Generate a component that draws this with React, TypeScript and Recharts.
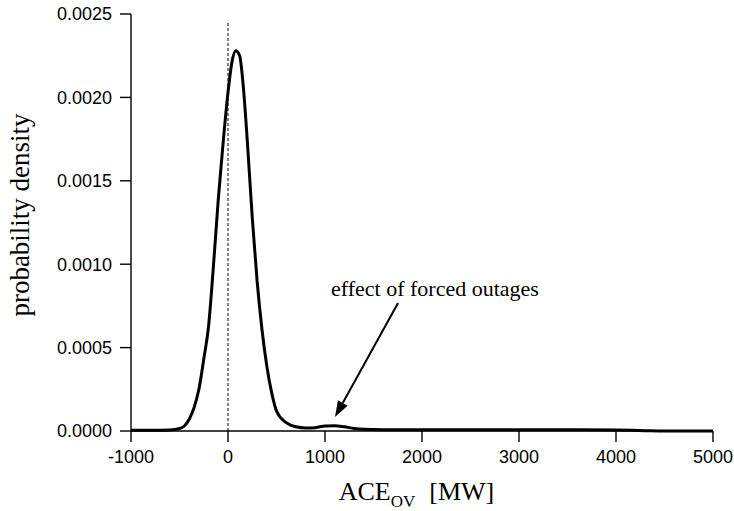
import React from "react";
import {
  LineChart,
  Line,
  XAxis,
  YAxis,
  ReferenceLine,
  ReferenceDot,
} from "recharts";

// ACE_OV in MW and the estimated probability density
const aceMw = [
  -1000, -800, -600, -500, -450, -400, -350, -300, -250, -200, -150, -100, -50, 0, 40, 80, 120, 160,
  200, 250, 300, 350, 400, 450, 500, 600, 700, 800, 900, 1000, 1100, 1200, 1300, 1400, 1600, 2000,
  3000, 3500, 4000, 4300, 4500, 5000,
];
const density = [
  0.000004, 0.000004, 0.000006, 0.000015, 0.00003, 0.00007, 0.00014, 0.00025, 0.00043, 0.00063,
  0.00099, 0.00139, 0.00173, 0.00203, 0.00221, 0.00228, 0.00225, 0.00205, 0.00173, 0.00128, 0.0009,
  0.00061, 0.00039, 0.00023, 0.00012, 0.00005, 0.000025, 0.000018, 0.00002, 0.00003, 0.000032,
  0.000025, 0.000015, 0.00001, 0.000008, 0.000008, 0.000008, 0.000008, 0.000006, 0.000002, 0, 0,
];
const xTicks = [-1000, 0, 1000, 2000, 3000, 4000, 5000];
const yTicks = [0, 0.0005, 0.001, 0.0015, 0.002, 0.0025];

const annotationText = "effect of forced outages";
const arrowFrom = { x: 1753, y: 0.000767 };
const arrowTo = { x: 1103, y: 0.000084 };
const textAnchorPoint = { x: 2134, y: 0.000809 };

const data = aceMw.map((x, i) => ({ x, y: density[i] }));

const tickStyle = { fill: "#000", fontSize: 18, fontFamily: "'Liberation Sans', Arial, sans-serif" };
const serif = "'Liberation Serif', 'Times New Roman', serif";

const ArrowShape = (props: any) => {
  const { x1, y1, x2, y2 } = props;
  const ang = Math.atan2(y2 - y1, x2 - x1);
  const len = 16;
  const half = 5.5;
  const bx = x2 - len * Math.cos(ang);
  const by = y2 - len * Math.sin(ang);
  const px = -Math.sin(ang) * half;
  const py = Math.cos(ang) * half;
  return (
    <g>
      <line x1={x1} y1={y1} x2={bx} y2={by} stroke="#000" strokeWidth={2} />
      <path d={`M${x2},${y2} L${bx + px},${by + py} L${bx - px},${by - py} Z`} fill="#000" />
    </g>
  );
};

const AnnotationLabel = (props: any) => {
  const { cx, cy } = props;
  return (
    <text x={cx} y={cy} textAnchor="middle" fontFamily={serif} fontSize={22} fill="#000">
      {annotationText}
    </text>
  );
};

const XTitle = ({ viewBox }: any) => {
  const cx = viewBox.x + viewBox.width / 2 - 5.5;
  return (
    <text x={cx} y={viewBox.y + 69} textAnchor="middle" fontFamily={serif} fontSize={26} fill="#000">
      ACE
      <tspan fontSize={17} dy={7}>OV</tspan>
      <tspan dy={-7} dx={14}>[MW]</tspan>
    </text>
  );
};

export default function App() {
  return (
    <div style={{ position: "absolute", left: 0, top: 0, background: "#fff" }}>
      <LineChart
        width={734}
        height={511}
        data={data}
        margin={{ top: 14, right: 21, bottom: 40, left: 51 }}
      >
        <XAxis
          dataKey="x"
          type="number"
          domain={[-1000, 5000]}
          ticks={xTicks}
          stroke="#000"
          strokeWidth={1.4}
          tickSize={11}
          tickMargin={8}
          tick={tickStyle}
          height={40}
          allowDataOverflow
          label={<XTitle />}
        />
        <YAxis
          type="number"
          domain={[0, 0.0025]}
          ticks={yTicks}
          tickFormatter={(v: number) => v.toFixed(4)}
          stroke="#000"
          strokeWidth={1.4}
          tickSize={11}
          tickMargin={8}
          tick={tickStyle}
          width={80}
        />
        <text
          x={29}
          y={215}
          transform="rotate(-90, 29, 215)"
          textAnchor="middle"
          fontFamily={serif}
          fontSize={27}
          fill="#000"
        >
          probability density
        </text>
        <ReferenceLine
          segment={[
            { x: 0, y: 0 },
            { x: 0, y: 0.00246 },
          ]}
          stroke="#000"
          strokeWidth={1}
          strokeDasharray="3 2"
        />
        <Line
          type="monotone"
          dataKey="y"
          stroke="#000"
          strokeWidth={3}
          dot={false}
          isAnimationActive={false}
        />
        <ReferenceLine
          segment={[arrowFrom, arrowTo]}
          shape={<ArrowShape />}
        />
        <ReferenceDot
          x={textAnchorPoint.x}
          y={textAnchorPoint.y}
          r={0}
          shape={<AnnotationLabel />}
        />
      </LineChart>
    </div>
  );
}
